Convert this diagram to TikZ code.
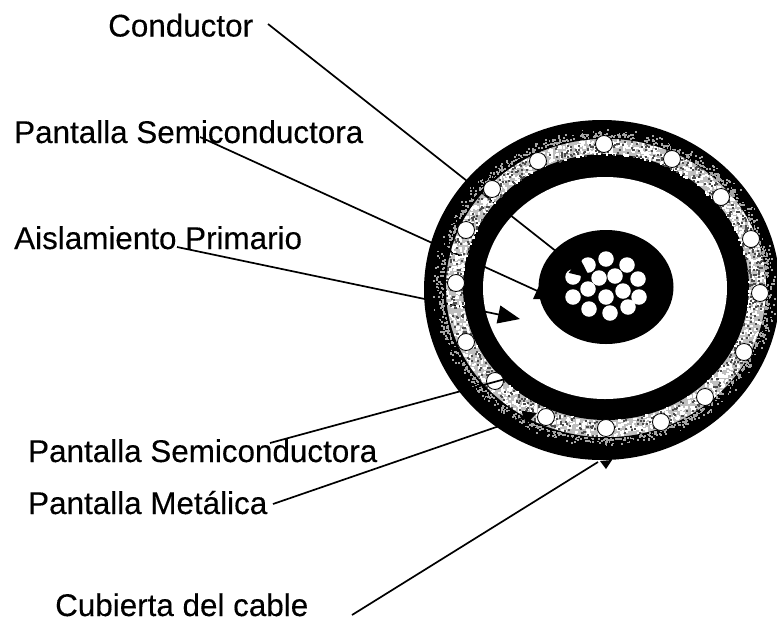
\documentclass[tikz,border=0pt]{standalone}
\usepackage{fontspec}
\setmainfont{Liberation Sans}
\newfontfamily\labfont[FakeBold=0.25]{Liberation Sans}
\usetikzlibrary{arrows.meta}
\tikzset{
  lab/.style={anchor=base west,inner sep=0pt,font=\labfont\fontsize{31.4}{36}\selectfont},
  lead/.style={line width=1.7pt,black},
  strand/.style={circle,draw=black,line width=.8pt,fill=white,minimum size=17pt,inner sep=0pt},
  wire/.style={circle,fill=white,minimum size=15.5pt,inner sep=0pt}
}
\begin{document}
\begin{tikzpicture}[x=1pt,y=-1pt]
\clip (0,0) rectangle (777,622);
\fill[white] (0,0) rectangle (777,622);
% cable body
\fill[black] (602,290) ellipse [x radius=178,y radius=170];
\fill[gray!50] (606,288) ellipse [x radius=161,y radius=150];
\fill[black] (606,287) ellipse [x radius=143,y radius=133];
\fill[white] (605,288) ellipse [x radius=122,y radius=111];
\fill[black] (606,287) ellipse [x radius=67.5,y radius=57];
% conductor wires
\foreach \n/\x/\y in {a/606/259,b/627/265,c/638/279,d/639/297,e/628/307,f/610/313,g/589/309,h/573/297,i/588/289,j/606/297,k/623/291,l/615/276,m/599/278,n/588/265,o/573/277}
  \node[wire] (w\n) at (\x,\y) {};
% labels
\node[lab] (conductor) at (108,36.5) {Conductor};
\node[lab] (semiA) at (14,143) {Pantalla Semiconductora};
\node[lab] (aisl) at (14,249) {Aislamiento Primario};
\node[lab] (semiB) at (28,462) {Pantalla Semiconductora};
\node[lab] (metal) at (28,514) {Pantalla Metálica};
\node[lab] (cubierta) at (55,616) {Cubierta del cable};
% connector ends
\coordinate (c1) at (268,24);   \coordinate (c2) at (590,278);
\coordinate (s1) at (200,137);  \coordinate (s2) at (555,299);
\coordinate (a1) at (177,247);  \coordinate (a2) at (520,319);
\coordinate (b1) at (270,443);  \coordinate (b2) at (520,375);
\coordinate (m1) at (273,504);  \coordinate (m2) at (537,413);
\coordinate (k1) at (352,615);  \coordinate (k2) at (598,462);
\draw[lead,-{Triangle[length=20pt,width=18pt]}] (c1) -- (c2);
\draw[lead,-{Triangle[length=20pt,width=18pt]}] (s1) -- (s2);
\draw[lead,-{Triangle[length=22pt,width=18pt]}] (a1) -- (a2);
\draw[lead] (k1) -- (k2);
\fill[black] (600,461) -- (612,460) -- (606,469) -- cycle;
% speckle of the semiconducting layer
\pgfmathsetseed{4711}
\foreach \i in {1,...,1500} {
  \pgfmathsetmacro\ang{rnd*360}
  \pgfmathsetmacro\fr{rnd}
  \fill[white] ({606+(143+17*\fr)*cos(\ang)-1.2},{288+(133+16*\fr)*sin(\ang)-1.2}) rectangle ++(2.4,2.4);
}
\foreach \i in {1,...,800} {
  \pgfmathsetmacro\ang{rnd*360}
  \pgfmathsetmacro\fr{rnd}
  \fill[black!70] ({606+(143+17*\fr)*cos(\ang)-1},{288+(133+16*\fr)*sin(\ang)-1}) rectangle ++(2,2);
}
% speckled band outside the screen
\draw[black,line width=1.5pt] (606,288) ellipse [x radius=161,y radius=150];
\foreach \i in {1,...,1100} {
  \pgfmathsetmacro\ang{rnd*360}
  \pgfmathsetmacro\fr{rnd*rnd}
  \fill[white!65!black] ({605+(162+11*\fr)*cos(\ang)-.9},{288+(151+9*\fr)*sin(\ang)-.9}) rectangle ++(1.8,1.8);
}
% metallic screen strands
\foreach \n/\x/\y in {1/604/144,2/672/159,3/721/197,4/751/239,5/760/293,6/744/352,7/705/397,8/661/422,9/606/428,10/546/417,11/495/381,12/466/342,13/456/283,14/466/230,15/492/189,16/538/161}
  \node[strand] (r\n) at (\x,\y) {};
% connectors passing over the strands
\draw[lead,-{Triangle[length=14pt,width=12pt]}] (b1) -- (b2);
\draw[lead,-{Triangle[length=14pt,width=14pt]}] (m1) -- (m2);
\end{tikzpicture}
\end{document}
